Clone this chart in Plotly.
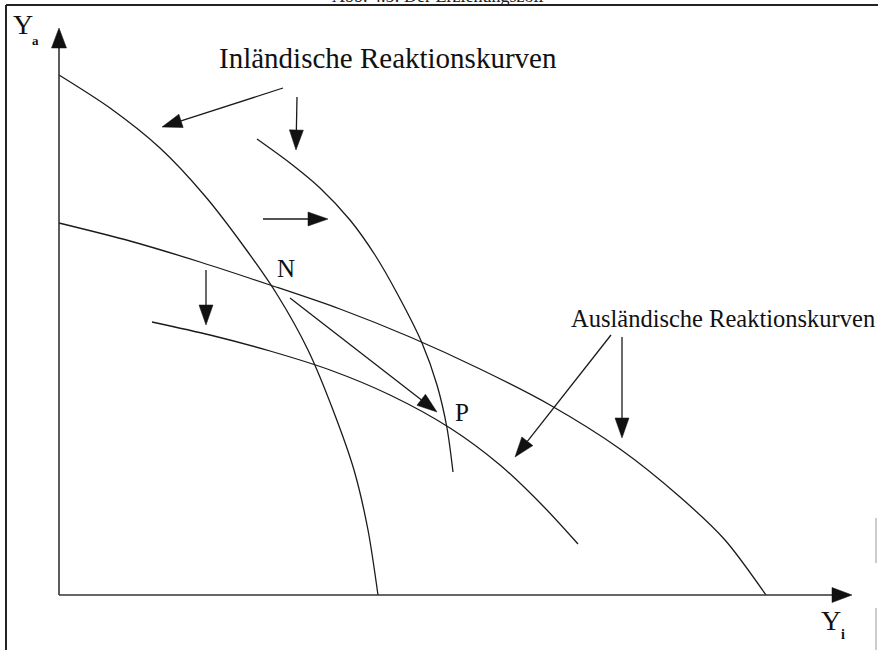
import numpy as np
import plotly.graph_objects as go

# Data coordinates: origin at the axis corner (units ~ screen pixels)
# Inländische Reaktionskurven (domestic reaction curves)
inland1_x = [0, 51, 101, 146, 186, 219, 249, 274, 295, 309, 319]
inland1_y = [520, 487, 447, 399, 347, 299, 245, 185, 125, 65, 0]

inland2_x = [198, 231, 261, 291, 316, 339, 363, 378, 388, 394]
inland2_y = [456, 432, 407, 375, 340, 300, 252, 210, 167, 123]

# Ausländische Reaktionskurven (foreign reaction curves)
ausland1_x = [0, 71, 141, 211, 281, 351, 421, 491, 561, 621, 666, 707]
ausland1_y = [372, 354, 333, 310, 286, 258, 226, 190, 146, 98, 55, 0]

ausland2_x = [93, 151, 211, 271, 331, 391, 441, 486, 519]
ausland2_y = [273, 260, 244, 225, 200, 167, 130, 87, 51]

# Arrows: start and tip
arrow_start_x = [224, 238, 204, 147, 231, 552, 563]
arrow_start_y = [507, 498, 376, 325, 297, 260, 258]
arrow_tip_x = [103, 237, 269, 147, 378, 456, 563]
arrow_tip_y = [468, 445, 376, 270, 183, 138, 157]

# Axis arrow ends
axis_x_end = 793
axis_y_end = 567

# Labels
label_inland = "Inländische Reaktionskurven"
label_ausland = "Ausländische Reaktionskurven"
point_labels = ["N", "P"]
point_x = [227, 403]
point_y = [327, 183]
title_text = "Abb. 4.5: Der Erziehungszoll"

LINE = "#1a1a1a"
LW = 1.3
FONT = "Liberation Serif"

fig = go.Figure()

for xs, ys in [(inland1_x, inland1_y), (inland2_x, inland2_y),
               (ausland1_x, ausland1_y), (ausland2_x, ausland2_y)]:
    fig.add_trace(go.Scatter(x=xs, y=ys, mode="lines",
                             line=dict(color=LINE, width=LW, shape="spline", smoothing=0.8),
                             hoverinfo="skip", showlegend=False))


def arrow_traces(sx, sy, tx, ty, L=20.0, W=14.0):
    lx, ly, px, py = [], [], [], []
    for a, b, c, d in zip(sx, sy, tx, ty):
        v = np.array([c - a, d - b], dtype=float)
        u = v / np.linalg.norm(v)
        n = np.array([-u[1], u[0]])
        tip = np.array([c, d], dtype=float)
        base = tip - L * u
        p1 = base + W / 2 * n
        p2 = base - W / 2 * n
        lx += [a, base[0], None]
        ly += [b, base[1], None]
        px += [tip[0], p1[0], p2[0], tip[0], None]
        py += [tip[1], p1[1], p2[1], tip[1], None]
    return lx, ly, px, py


lx, ly, px, py = arrow_traces(arrow_start_x, arrow_start_y, arrow_tip_x, arrow_tip_y)
fig.add_trace(go.Scatter(x=lx, y=ly, mode="lines", line=dict(color=LINE, width=LW),
                         hoverinfo="skip", showlegend=False))
fig.add_trace(go.Scatter(x=px, y=py, mode="lines", fill="toself", fillcolor="#111111",
                         line=dict(color="#111111", width=0.5), hoverinfo="skip", showlegend=False))

alx, aly, apx, apy = arrow_traces([0, 0], [0, 0], [axis_x_end, 0], [0, axis_y_end], L=20, W=15)
fig.add_trace(go.Scatter(x=alx, y=aly, mode="lines", line=dict(color="#333333", width=1.6),
                         hoverinfo="skip", showlegend=False))
fig.add_trace(go.Scatter(x=apx, y=apy, mode="lines", fill="toself", fillcolor="#111111",
                         line=dict(color="#111111", width=0.5), hoverinfo="skip", showlegend=False))

annotations = [
    dict(x=329, y=537, text=label_inland, font=dict(family=FONT, size=29, color="#111")),
    dict(x=664, y=277, text=label_ausland, font=dict(family=FONT, size=24.5, color="#111")),
]
for t, x, y in zip(point_labels, point_x, point_y):
    annotations.append(dict(x=x, y=y, text=t, font=dict(family=FONT, size=25, color="#111")))
annotations += [
    dict(x=-36, y=571, text="Y", font=dict(family=FONT, size=28, color="#111")),
    dict(x=-24, y=555, text="<b>a</b>", font=dict(family=FONT, size=13, color="#111")),
    dict(x=772, y=-25, text="Y", font=dict(family=FONT, size=28, color="#111")),
    dict(x=784, y=-39, text="<b>i</b>", font=dict(family=FONT, size=14, color="#111")),
]
for a in annotations:
    a.update(xref="x", yref="y", showarrow=False)

# partially visible figure caption at the very top edge
annotations.append(dict(x=437 / 878, y=1, xref="paper", yref="paper", yanchor="middle",
                        yshift=4, text=title_text, showarrow=False,
                        font=dict(family=FONT, size=18, color="#222")))

shapes = [
    dict(type="line", xref="paper", yref="paper", x0=6 / 878, x1=1, y0=1 - 5 / 650, y1=1 - 5 / 650,
         line=dict(color="#222", width=2)),
    dict(type="line", xref="paper", yref="paper", x0=6 / 878, x1=6 / 878, y0=0, y1=1 - 5 / 650,
         line=dict(color="#222", width=2)),
    dict(type="line", xref="paper", yref="paper", x0=876 / 878, x1=876 / 878, y0=1 - 518 / 650, y1=1 - 563 / 650,
         line=dict(color="#999", width=1)),
    dict(type="line", xref="paper", yref="paper", x0=876 / 878, x1=876 / 878, y0=1 - 608 / 650, y1=0,
         line=dict(color="#999", width=1)),
]

fig.update_layout(
    width=878, height=650,
    margin=dict(l=0, r=0, t=0, b=0),
    paper_bgcolor="white", plot_bgcolor="white",
    xaxis=dict(range=[-59, 819], visible=False, fixedrange=True),
    yaxis=dict(range=[-55, 595], visible=False, fixedrange=True),
    annotations=annotations, shapes=shapes,
    showlegend=False,
)

fig.write_html("out.html", config={"displayModeBar": False},
               post_script="document.body.style.margin='0px';document.body.style.overflow='hidden';")
